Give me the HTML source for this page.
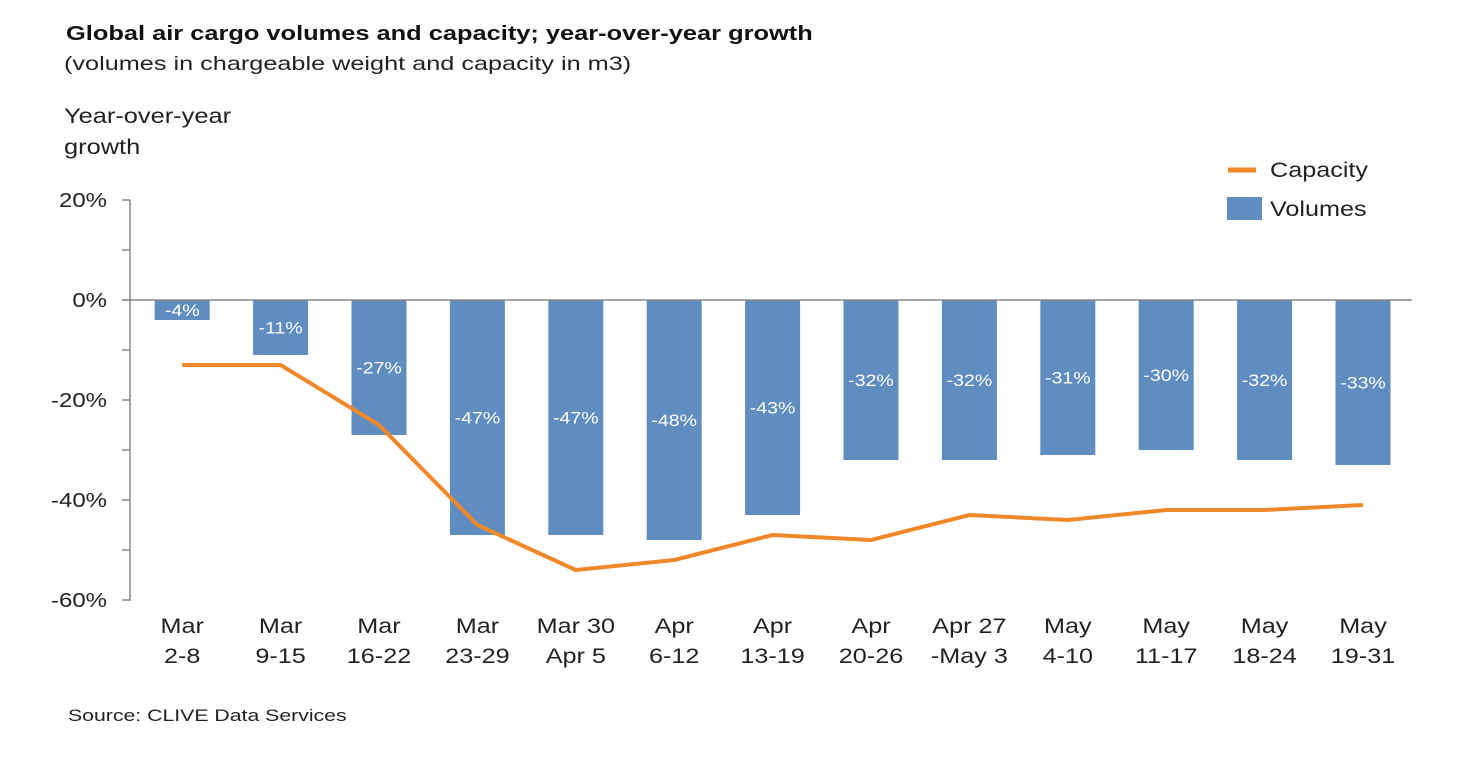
<!DOCTYPE html>
<html><head><meta charset="utf-8"><style>
body{margin:0;background:#fff;font-family:"Liberation Sans",Arial,sans-serif;}
svg text{font-family:"Liberation Sans",Arial,sans-serif;}
</style></head><body>
<svg id="c" width="1470" height="760" xmlns="http://www.w3.org/2000/svg">
<text transform="translate(66,40) scale(1.27,1)" font-size="20" font-weight="bold" fill="#111">Global air cargo volumes and capacity; year-over-year growth</text>
<text transform="translate(64,70) scale(1.33,1)" font-size="19" fill="#222">(volumes in chargeable weight and capacity in m3)</text>
<text transform="translate(64,123) scale(1.21,1)" font-size="21" fill="#222">Year-over-year</text>
<text transform="translate(64,154) scale(1.21,1)" font-size="21" fill="#222">growth</text>
<g id="plot"></g>
<g>
<line x1="1228" y1="170" x2="1256" y2="170" stroke="#f0882a" stroke-width="5"/>
<text transform="translate(1270,177) scale(1.2,1)" font-size="21" fill="#222">Capacity</text>
<rect x="1227" y="197" width="35" height="23" fill="#5f8dc0"/>
<text transform="translate(1270,216) scale(1.2,1)" font-size="21" fill="#222">Volumes</text>
</g>
<text transform="translate(68,721) scale(1.25,1)" font-size="17" fill="#222">Source: CLIVE Data Services</text>
</svg>
<script>
const categories1=["Mar","Mar","Mar","Mar","Mar 30","Apr","Apr","Apr","Apr 27","May","May","May","May"];
const categories2=["2-8","9-15","16-22","23-29","Apr 5","6-12","13-19","20-26","-May 3","4-10","11-17","18-24","19-31"];
const volumes=[-4,-11,-27,-47,-47,-48,-43,-32,-32,-31,-30,-32,-33];
const capacity=[-13,-13,-25,-45,-54,-52,-47,-48,-43,-44,-42,-42,-41];
const yTicks=[20,0,-20,-40,-60];
const NS="http://www.w3.org/2000/svg";
const g=document.getElementById('plot');
const x0=133,step=98.4,bw=55;
const y=v=>300-v*5;
const xc=i=>x0+step*(i+0.5);
function mk(t,a){const e=document.createElementNS(NS,t);for(const k in a)e.setAttribute(k,a[k]);g.appendChild(e);return e;}
function tx(px,py,s,size,anchor,fill){return mk('text',{transform:`translate(${px},${py}) scale(${s},1)`,x:0,y:0,'font-size':size,'text-anchor':anchor,fill:fill});}
let ax=mk('line',{x1:130,y1:200,x2:130,y2:601,stroke:'#888','stroke-width':1.5});


for(let v=20;v>=-60;v-=10){let t=mk('line',{x1:122,y1:y(v),x2:130,y2:y(v),stroke:'#888','stroke-width':1.5});

}
yTicks.forEach(v=>{let t=tx(107,y(v)+7,1.2,20,'end','#222');t.textContent=v+'%';

});
volumes.forEach((v,i)=>{
let r=mk('rect',{x:xc(i)-bw/2,y:y(0),width:bw,height:y(v)-y(0),fill:'#5f8dc0'});


let t=tx(xc(i),(y(0)+y(v))/2+6,1.15,17,'middle','#fff');t.textContent=v+'%';


let a=tx(xc(i),633,1.2,21,'middle','#222');a.textContent=categories1[i];


let b=tx(xc(i),663,1.2,21,'middle','#222');b.textContent=categories2[i];


});
let z=mk('line',{x1:122,y1:300,x2:1412,y2:300,stroke:'#888','stroke-width':1.5});


let p=mk('polyline',{points:capacity.map((v,i)=>xc(i)+','+y(v)).join(' '),fill:'none',stroke:'#f0882a','stroke-width':4,'stroke-linejoin':'round'});


</script>
</body></html>
